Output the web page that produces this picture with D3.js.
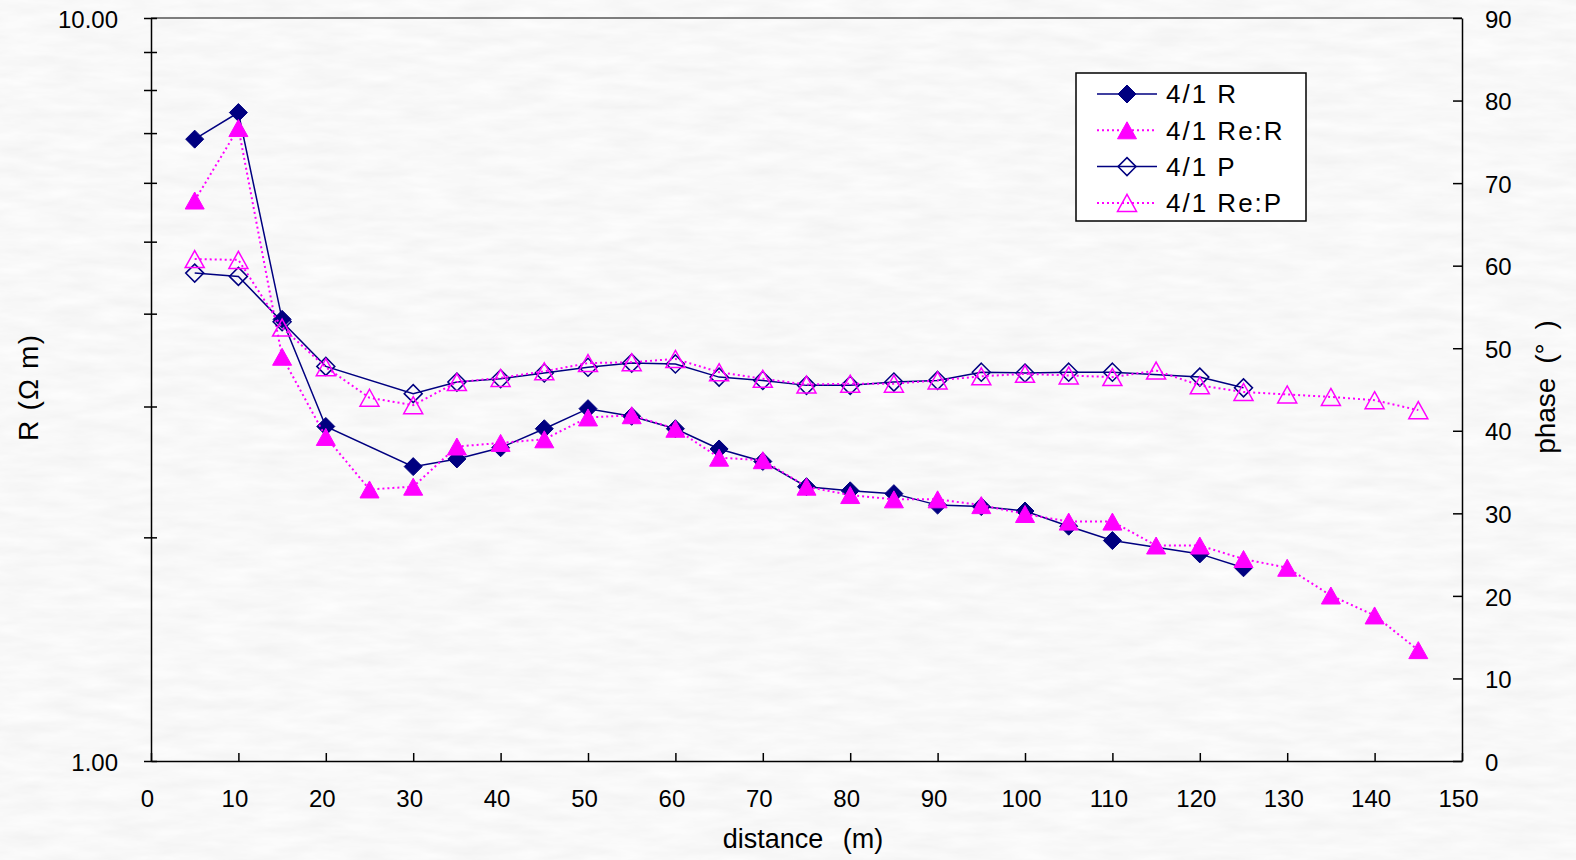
<!DOCTYPE html>
<html>
<head>
<meta charset="utf-8">
<script src="https://cdn.jsdelivr.net/npm/d3@7"></script>
<style>
  html, body { margin: 0; padding: 0; background: #f0f0f0; }
  svg { display: block; }
  text { font-family: "Liberation Sans", Arial, "Noto Sans CJK JP", sans-serif; fill: #000; }
</style>
</head>
<body>
<div id="chart"></div>
<script>
// measurement points (m)
const distMain = [5, 10, 15, 20, 30, 35, 40, 45, 50, 55, 60, 65, 70, 75, 80, 85, 90, 95, 100, 105, 110, 120, 125];
const distRe = [5, 10, 15, 20, 25, 30, 35, 40, 45, 50, 55, 60, 65, 70, 75, 80, 85, 90, 95, 100, 105, 110, 115, 120, 125, 130, 135, 140, 145];

// apparent resistivity (Ohm m)
const valR = [6.87, 7.46, 3.93, 2.82, 2.49, 2.55, 2.64, 2.80, 2.98, 2.91, 2.80, 2.63, 2.53, 2.34, 2.31, 2.29, 2.21, 2.20, 2.17, 2.07, 1.98, 1.90, 1.82];
const valReR = [5.68, 7.11, 3.50, 2.73, 2.32, 2.34, 2.65, 2.68, 2.71, 2.90, 2.92, 2.80, 2.56, 2.54, 2.34, 2.28, 2.25, 2.25, 2.21, 2.15, 2.10, 2.10, 1.95, 1.95, 1.87, 1.82, 1.67, 1.57, 1.41];

// phase (deg)
const valP = [59.1, 58.7, 53.2, 47.8, 44.5, 45.9, 46.3, 47.0, 47.7, 48.2, 48.1, 46.5, 46.1, 45.5, 45.5, 45.9, 46.1, 47.1, 47.0, 47.1, 47.1, 46.5, 45.2];
const valReP = [60.8, 60.7, 52.5, 47.7, 44.0, 43.1, 45.9, 46.4, 47.2, 48.2, 48.3, 48.7, 47.1, 46.3, 45.6, 45.7, 45.7, 46.1, 46.6, 46.9, 46.7, 46.5, 47.3, 45.5, 44.7, 44.4, 44.1, 43.7, 42.5];

const xTicks = d3.range(0, 151, 10);
const rTicks = [1, 2, 3, 4, 5, 6, 7, 8, 9, 10];
const pTicks = d3.range(0, 91, 10);

const W = 1576, H = 860;
const margin = { top: 18, right: 114, bottom: 99, left: 151 };
const iw = W - margin.left - margin.right,
      ih = H - margin.top - margin.bottom;

const navy = "#000080", magenta = "#ff00ff";

const svg = d3.select("#chart").append("svg")
    .attr("width", W)
    .attr("height", H);

// paper-like background texture
const defs = svg.append("defs");
const flt = defs.append("filter").attr("id", "paper")
    .attr("x", 0).attr("y", 0).attr("width", "100%").attr("height", "100%");
flt.append("feTurbulence")
    .attr("type", "fractalNoise")
    .attr("baseFrequency", "0.02 0.09")
    .attr("numOctaves", 3)
    .attr("seed", 7);
flt.append("feColorMatrix")
    .attr("type", "matrix")
    .attr("values", "0.11 0 0 0 0.885  0.11 0 0 0 0.885  0.11 0 0 0 0.885  0 0 0 0 1");

svg.append("rect").attr("width", W).attr("height", H).attr("fill", "#f0f0f0");
svg.append("rect").attr("width", W).attr("height", H).attr("filter", "url(#paper)");

const g = svg.append("g")
    .attr("transform", `translate(${margin.left},${margin.top})`);

const x = d3.scaleLinear().domain([0, 150]).range([0, iw]);
const yR = d3.scaleLog().domain([1, 10]).range([ih, 0]);
const yP = d3.scaleLinear().domain([0, 90]).range([ih, 0]);

// top frame line
g.append("line")
    .attr("x1", 0).attr("x2", iw).attr("y1", 0).attr("y2", 0)
    .attr("stroke", "#555").attr("stroke-width", 1.5);

// x axis
const xAxis = g.append("g")
    .attr("transform", `translate(0,${ih})`)
    .call(d3.axisBottom(x).tickValues(xTicks).tickSizeInner(-8).tickSizeOuter(0));
xAxis.selectAll("text")
    .attr("y", 38).attr("dy", "0.35em").attr("dx", -4)
    .style("font-size", "24px");

// left axis (log)
const yAxisL = g.append("g")
    .call(d3.axisLeft(yR).tickValues(rTicks).tickSizeInner(7).tickSizeOuter(0)
        .tickFormat(d => (d === 1 || d === 10) ? d3.format(".2f")(d) : ""));
yAxisL.selectAll(".tick line").attr("x2", -7).attr("x1", 6);
yAxisL.selectAll("text")
    .attr("x", -33).attr("dy", "0.38em")
    .style("font-size", "24px");

// right axis (phase)
const yAxisR = g.append("g")
    .attr("transform", `translate(${iw},0)`)
    .call(d3.axisRight(yP).tickValues(pTicks).tickSizeInner(-9).tickSizeOuter(0));
yAxisR.selectAll("text")
    .attr("x", 23).attr("dy", "0.38em")
    .style("font-size", "24px");

[xAxis, yAxisL, yAxisR].forEach(a => {
    a.select(".domain").attr("stroke", "#000").attr("stroke-width", 1.5);
    a.selectAll(".tick line").attr("stroke", "#000").attr("stroke-width", 1.5);
});

// axis titles
svg.append("text")
    .attr("x", 803).attr("y", 839)
    .attr("text-anchor", "middle").attr("dy", "0.35em")
    .style("font-size", "27px")
    .style("word-spacing", "12px")
    .text("distance (m)");

svg.append("text")
    .attr("transform", `translate(28,388) rotate(-90)`)
    .attr("text-anchor", "middle").attr("dy", "0.35em")
    .style("font-size", "28px")
    .attr("textLength", 106)
    .text("R (Ω m)");

svg.append("text")
    .attr("transform", `translate(1545,387) rotate(-90)`)
    .attr("text-anchor", "middle").attr("dy", "0.35em")
    .style("font-size", "28px")
    .style("word-spacing", "6px")
    .text("phase (° )");

// marker shapes
const diamond = "M0,-9L9,0L0,9L-9,0Z";
const triangle = "M0,-8.5L9.5,8.5L-9.5,8.5Z";

const series = [
    { name: "4/1 R", xs: distMain, ys: valR, scale: yR, color: navy, dash: null, shape: diamond, filled: true },
    { name: "4/1 Re:R", xs: distRe, ys: valReR, scale: yR, color: magenta, dash: "2,3", shape: triangle, filled: true },
    { name: "4/1 P", xs: distMain, ys: valP, scale: yP, color: navy, dash: null, shape: diamond, filled: false },
    { name: "4/1 Re:P", xs: distRe, ys: valReP, scale: yP, color: magenta, dash: "2,3", shape: triangle, filled: false }
];

series.forEach(s => {
    const pts = s.xs.map((d, i) => [d, s.ys[i]]);
    const line = d3.line().x(d => x(d[0])).y(d => s.scale(d[1]));
    g.append("path")
        .datum(pts)
        .attr("d", line)
        .attr("fill", "none")
        .attr("stroke", s.color)
        .attr("stroke-width", s.dash ? 2 : 1.5)
        .attr("stroke-dasharray", s.dash);
    g.selectAll(null)
        .data(pts)
        .enter().append("path")
        .attr("d", s.shape)
        .attr("transform", d => `translate(${x(d[0])},${s.scale(d[1])})`)
        .attr("fill", s.filled ? s.color : "none")
        .attr("stroke", s.color)
        .attr("stroke-width", s.filled ? 1 : 1.5);
});

// legend
const lg = svg.append("g").attr("transform", "translate(1076,73)");
lg.append("rect")
    .attr("width", 230).attr("height", 148)
    .attr("fill", "#fff").attr("stroke", "#000").attr("stroke-width", 1.5);
series.forEach((s, i) => {
    const cy = 21 + i * 36.3;
    lg.append("line")
        .attr("x1", 21).attr("x2", 81).attr("y1", cy).attr("y2", cy)
        .attr("stroke", s.color)
        .attr("stroke-width", s.dash ? 2 : 1.5)
        .attr("stroke-dasharray", s.dash);
    lg.append("path")
        .attr("d", s.shape)
        .attr("transform", `translate(51,${cy})`)
        .attr("fill", s.filled ? s.color : "none")
        .attr("stroke", s.color)
        .attr("stroke-width", s.filled ? 1 : 1.5);
    lg.append("text")
        .attr("x", 90).attr("y", cy).attr("dy", "0.36em")
        .style("font-size", "26px")
        .style("letter-spacing", "2px")
        .text(s.name);
});
</script>
</body>
</html>
